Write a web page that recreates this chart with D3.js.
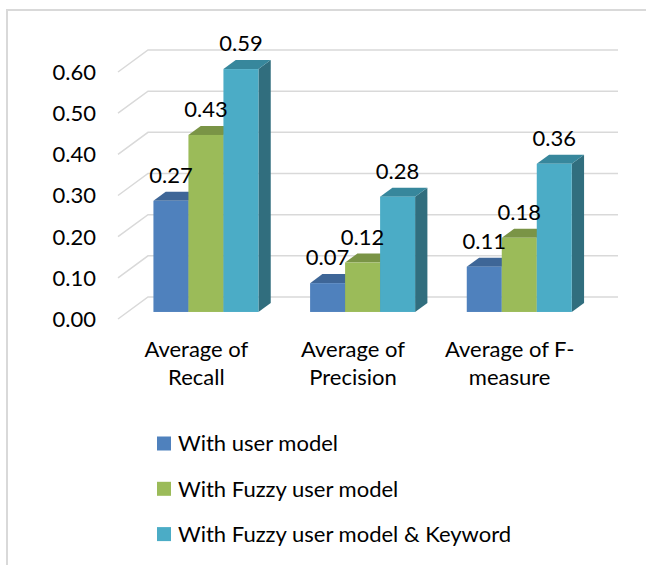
<!DOCTYPE html>
<html>
<head>
<meta charset="utf-8">
<script src="https://cdn.jsdelivr.net/npm/d3@7"></script>
<style>
  body { margin: 0; background: #fff; }
  svg text { font-family: "Lato", "Open Sans", sans-serif; fill: #000; }
</style>
</head>
<body>
<svg id="chart"></svg>
<script>
/* data */
var categories = ["Average of Recall", "Average of Precision", "Average of F-measure"];
var categoryLines = [["Average of", "Recall"], ["Average of", "Precision"], ["Average of F-", "measure"]];
var seriesNames = ["With user model", "With Fuzzy user model", "With Fuzzy user model & Keyword"];
var withUserModel = [0.27, 0.07, 0.11];
var withFuzzyModel = [0.43, 0.12, 0.18];
var withFuzzyKeyword = [0.59, 0.28, 0.36];
var yTicks = [0, 0.1, 0.2, 0.3, 0.4, 0.5, 0.6];

var seriesValues = [withUserModel, withFuzzyModel, withFuzzyKeyword];
var colors = [
    {front: "#4F81BD", top: "#3E6697", side: "#365A86"},
    {front: "#9BBB59", top: "#7A9446", side: "#6B823D"},
    {front: "#4BACC6", top: "#37879C", side: "#316E7E"}
];

var width = 646, height = 565;
var depthX = 30, depthY = -22;     // full floor depth
var f0 = 0.32, f1 = 0.73;          // bar front / back position in depth
var fontSize = 22;

var svg = d3.select("#chart").attr("width", width).attr("height", height);

// frame
svg.append("path")
   .attr("d", "M7,565 V10 H646")
   .attr("fill", "none")
   .attr("stroke", "#D9D9D9")
   .attr("stroke-width", 2);

var yScale = d3.scaleLinear().domain([0, 0.6]).range([319, 72]);
var xScale = d3.scaleBand().domain(categories).range([118, 588]);
var xInner = d3.scaleBand().domain(seriesNames).range([0, xScale.bandwidth()]).paddingOuter(0.738);

// gridlines: left wall diagonal + back wall
svg.append("g").selectAll("path")
   .data(yTicks)
   .join("path")
   .attr("d", d => {
       let y = yScale(d);
       return `M${xScale.range()[0]},${y} L${xScale.range()[0] + depthX},${y + depthY} H${xScale.range()[1] + depthX}`;
   })
   .attr("fill", "none")
   .attr("stroke", "#D9D9D9")
   .attr("stroke-width", 1.5);

// y labels
svg.append("g").selectAll("text")
   .data(yTicks)
   .join("text")
   .attr("x", 96)
   .attr("y", d => yScale(d))
   .attr("dy", "0.36em")
   .attr("text-anchor", "end")
   .style("font-size", fontSize + "px")
   .text(d => d3.format(".2f")(d));

// bars
var bars = [];
categories.forEach(function(c, j){
    seriesNames.forEach(function(s, i){
        bars.push({cat: c, series: s, i: i, value: seriesValues[i][j]});
    });
});

function pt(x, y, f){ return [x + depthX * f, y + depthY * f]; }

var barG = svg.append("g").selectAll("g")
   .data(bars)
   .join("g");

barG.each(function(d){
    let g = d3.select(this);
    let xl = xScale(d.cat) + xInner(d.series);
    let xr = xl + xInner.bandwidth();
    let yt = yScale(d.value), yb = yScale(0);
    let col = colors[d.i];

    g.append("polygon")
     .attr("points", [pt(xr, yt, f0), pt(xr, yt, f1), pt(xr, yb, f1), pt(xr, yb, f0)].join(" "))
     .attr("fill", col.side);
    g.append("polygon")
     .attr("points", [pt(xl, yt, f0), pt(xr, yt, f0), pt(xr, yt, f1), pt(xl, yt, f1)].join(" "))
     .attr("fill", col.top);
    let p = pt(xl, yt, f0);
    g.append("rect")
     .attr("x", p[0])
     .attr("y", p[1])
     .attr("width", xr - xl)
     .attr("height", yb - yt)
     .attr("fill", col.front);
});

// value labels (after bars so they stay on top)
svg.append("g").selectAll("text")
   .data(bars)
   .join("text")
   .attr("x", d => xScale(d.cat) + xInner(d.series) + xInner.bandwidth() / 2 + depthX * f0)
   .attr("y", d => yScale(d.value) + depthY * f1 - 9)
   .attr("text-anchor", "middle")
   .style("font-size", fontSize + "px")
   .text(d => d3.format(".2f")(d.value));

// category labels
svg.append("g").selectAll("text")
   .data(categories)
   .join("text")
   .attr("text-anchor", "middle")
   .style("font-size", fontSize + "px")
   .each(function(d, j){
       let t = d3.select(this);
       categoryLines[j].forEach(function(line, k){
           t.append("tspan")
            .attr("x", xScale(d) + xScale.bandwidth() / 2)
            .attr("y", 357 + k * 28)
            .text(line);
       });
   });

// legend
var legend = svg.append("g").selectAll("g")
   .data(seriesNames)
   .join("g")
   .attr("transform", (d, i) => `translate(157, ${443.5 + i * 45.3})`);

legend.append("rect")
      .attr("x", 0).attr("y", -7)
      .attr("width", 14).attr("height", 14)
      .attr("fill", (d, i) => colors[i].front);

legend.append("text")
      .attr("x", 21)
      .attr("y", 0)
      .attr("dy", "0.36em")
      .style("font-size", fontSize + "px")
      .text(d => d);
</script>
</body>
</html>
